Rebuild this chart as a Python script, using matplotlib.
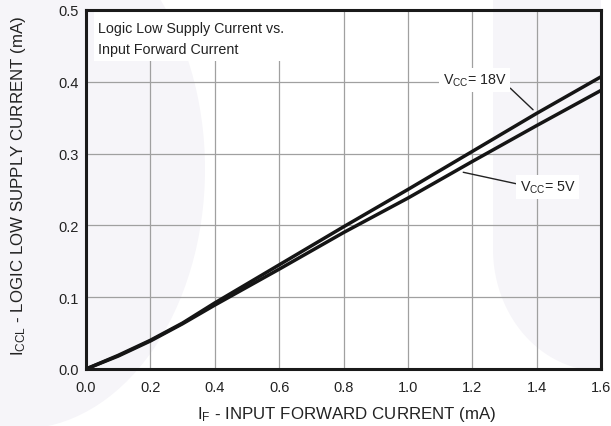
import numpy as np
import matplotlib
matplotlib.use("Agg")
import matplotlib.pyplot as plt
from matplotlib.patches import Ellipse, Rectangle, Polygon

plt.rcParams['font.family'] = ['Liberation Sans', 'DejaVu Sans']
plt.rcParams['mathtext.fontset'] = 'custom'
plt.rcParams['mathtext.rm'] = 'Liberation Sans'

# values
i_f = [0.0, 0.1, 0.2, 0.3, 0.4, 0.6, 0.8, 1.0, 1.2, 1.4, 1.6]
iccl_18v = [0.0, 0.019, 0.040, 0.064, 0.092, 0.145, 0.198, 0.250, 0.303, 0.356, 0.407]
iccl_5v = [0.0, 0.018, 0.039, 0.063, 0.089, 0.139, 0.190, 0.238, 0.289, 0.339, 0.388]

xticks = [0.0, 0.2, 0.4, 0.6, 0.8, 1.0, 1.2, 1.4, 1.6]
yticks = [0.0, 0.1, 0.2, 0.3, 0.4, 0.5]

W, H = 611, 427
fig = plt.figure(figsize=(W / 100, H / 100), dpi=100)
fig.patch.set_facecolor('white')

# faint watermark shapes in the background (pixel coords, origin top-left)
wm = '#f6f5f9'
fig.patches.append(Ellipse((20 / W, 1 - 170 / H), 370 / W, 520 / H,
                           transform=fig.transFigure, color=wm, zorder=-2, lw=0))
t = np.linspace(np.pi, 1.5 * np.pi, 40)
corner = [(601 + 108 * np.cos(a), 250 - 122 * np.sin(a)) for a in t]
shape = [(493, 0)] + corner + [(601, 0)]
fig.patches.append(Polygon([(x / W, 1 - y / H) for x, y in shape], closed=True,
                           transform=fig.transFigure, color=wm, zorder=-2, lw=0))

ax = fig.add_axes([86 / W, 1 - 370 / H, 515 / W, 359 / H])
ax.set_facecolor('none')

ax.plot(i_f, iccl_18v, color='#151515', lw=2.5, solid_capstyle='butt', zorder=4)
ax.plot(i_f, iccl_5v, color='#151515', lw=2.5, solid_capstyle='butt', zorder=4)

ax.set_xlim(0, 1.6)
ax.set_ylim(0, 0.5)
ax.set_xticks(xticks)
ax.set_yticks(yticks)
ax.set_xticklabels(['%.1f' % v for v in xticks])
ax.set_yticklabels(['%.1f' % v for v in yticks])
ax.tick_params(length=0, labelsize=10.5, colors='#222222')
ax.tick_params(axis='x', pad=8)
ax.tick_params(axis='y', pad=5)
ax.grid(True, color='#a0a0a0', lw=0.9, zorder=1)
ax.set_axisbelow(True)
for s in ax.spines.values():
    s.set_linewidth(2.2)
    s.set_color('#1a1a1a')
    s.set_zorder(5)

# title box
ax.add_patch(Rectangle((0.0155, 0.858), 0.381, 0.14, transform=ax.transAxes,
                       facecolor='white', edgecolor='none', zorder=2))
ax.text(0.023, 0.949, 'Logic Low Supply Current vs.', transform=ax.transAxes,
        fontsize=10.3, va='center', ha='left', color='#222222', zorder=3)
ax.text(0.023, 0.890, 'Input Forward Current', transform=ax.transAxes,
        fontsize=10.3, va='center', ha='left', color='#222222', zorder=3)

# curve labels
box = dict(facecolor='white', edgecolor='none', pad=2.5)
ax.annotate(r'$\mathregular{V_{CC}}$= 18V', xy=(1.389, 0.361), xytext=(1.208, 0.4025),
            fontsize=10.3, ha='center', va='center', color='#222222', bbox=box,
            arrowprops=dict(arrowstyle='-', color='#222222', lw=1.0,
                            shrinkA=0, shrinkB=0, relpos=(1.0, 0.2)), zorder=3)
ax.annotate(r'$\mathregular{V_{CC}}$= 5V', xy=(1.172, 0.274), xytext=(1.435, 0.2535),
            fontsize=10.3, ha='center', va='center', color='#222222', bbox=box,
            arrowprops=dict(arrowstyle='-', color='#222222', lw=1.0,
                            shrinkA=0, shrinkB=0, relpos=(0.0, 0.65)), zorder=3)

fig.text(347 / W, 1 - 415 / H, r'$\mathregular{I_F}$ - INPUT FORWARD CURRENT (mA)',
         fontsize=12.2, ha='center', va='center', color='#222222')
fig.text(19 / W, 1 - 186 / H, r'$\mathregular{I_{CCL}}$ - LOGIC LOW SUPPLY CURRENT (mA)',
         fontsize=12.2, ha='center', va='center', rotation=90, color='#222222')

fig.savefig('out.png', dpi=100)
